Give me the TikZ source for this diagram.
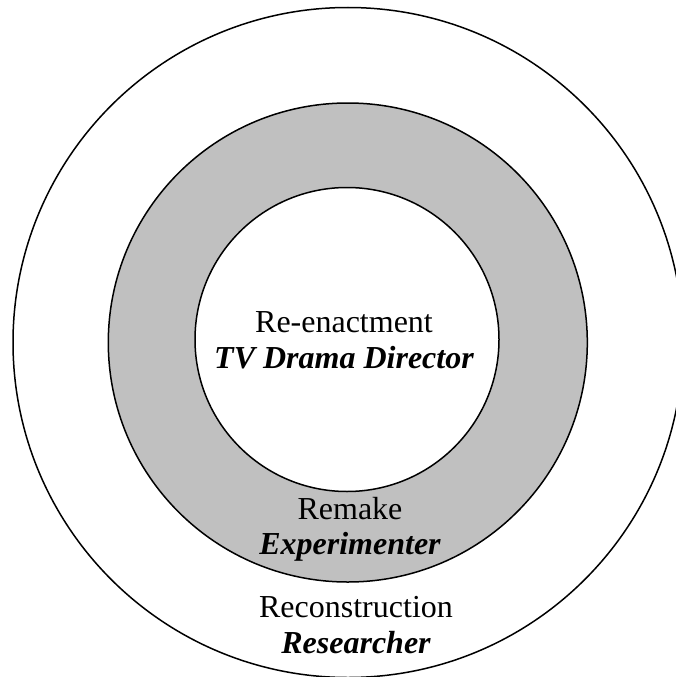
\documentclass[tikz,border=0pt]{standalone}
\usepackage{fontspec}
\setmainfont{Liberation Serif}
\definecolor{ringgray}{RGB}{192,192,192}
\begin{document}
\begin{tikzpicture}[x=1pt,y=-1pt,
  ring/.style={draw=black,line width=1.5pt},
  lbl/.style={anchor=base,inner sep=0pt,font=\fontsize{32}{36}\selectfont},
  role/.style={lbl,font=\fontsize{32}{36}\selectfont\bfseries\itshape}]
\useasboundingbox (0,0) rectangle (676,677);
\clip (0,0) rectangle (676,677);
\fill[white] (0,0) rectangle (676,677);
\draw[ring,fill=white] (348,342.5) circle[radius=335];
\draw[ring,fill=ringgray] (347.8,342.5) circle[radius=239.5];
\draw[ring,fill=white] (347,339.5) circle[radius=152];
\node[lbl]  (reenact)  at (344,332)   {Re-enactment};
\node[role] (director) at (344,368.5) {TV Drama Director};
\node[lbl]  (remake)   at (350,519.5) {Remake};
\node[role] (experim)  at (350,554)   {Experimenter};
\node[lbl]  (recon)    at (356,617)   {Reconstruction};
\node[role] (research) at (356,653)   {Researcher};
\end{tikzpicture}
\end{document}
